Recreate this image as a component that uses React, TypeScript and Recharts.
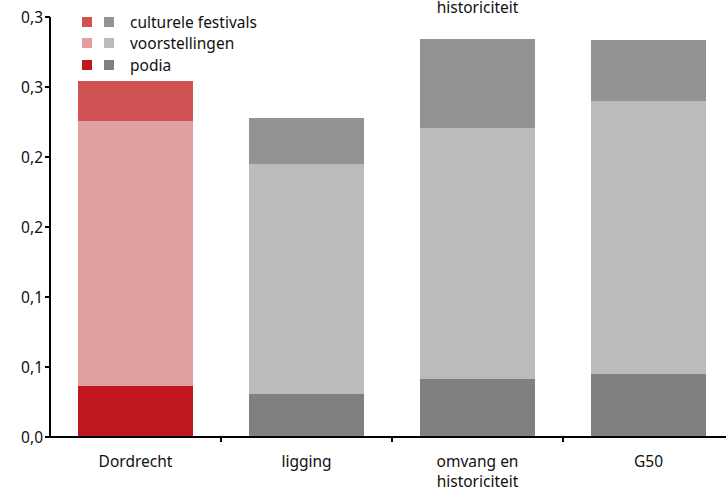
import { BarChart, Bar, XAxis, YAxis, Cell } from 'recharts';

const categories = ['Dordrecht', 'ligging', 'omvang en historiciteit', 'G50'];
const podia = [0.0364, 0.0307, 0.0414, 0.045];
const voorstellingen = [0.1893, 0.1643, 0.1793, 0.195];
const festivals = [0.0286, 0.0329, 0.0636, 0.0436];
const yTicks = [0, 0.05, 0.1, 0.15, 0.2, 0.25, 0.3];
const yTickLabels = ['0,0', '0,1', '0,1', '0,2', '0,2', '0,3', '0,3'];
const legendLabels = ['culturele festivals', 'voorstellingen', 'podia'];

const RED = { festivals: '#d05252', voorstellingen: '#e0a0a0', podia: '#c0161f' };
const GREY = { festivals: '#939393', voorstellingen: '#bbbbbb', podia: '#808080' };

const chartData = categories.map((name, i) => ({
  name,
  podia: podia[i],
  voorstellingen: voorstellingen[i],
  festivals: festivals[i],
}));

const FONT = '"Noto Sans", sans-serif';
const FS = 15.5;
const W = 760;
const H = 489;
const M = { top: 17, right: 26, left: 0, bottom: 22 };
const Y_W = 50;
const band = (W - M.left - M.right - Y_W) / categories.length;

const XTick = (props: any) => {
  const { x, y, payload } = props;
  const words = String(payload.value).split(' ');
  const lines = words.length > 2 ? [words.slice(0, 2).join(' '), words.slice(2).join(' ')] : [payload.value];
  return (
    <g>
      <line x1={x + band / 2} y1={y - 8} x2={x + band / 2} y2={y - 3} stroke="#000" strokeWidth={2} />
      {lines.map((l: string, k: number) => (
        <text key={k} x={x} y={y + 22 + k * 20} textAnchor="middle" fontSize={FS} fontFamily={FONT} fill="#111">
          {l}
        </text>
      ))}
    </g>
  );
};

const legendColors = [
  [RED.festivals, GREY.festivals],
  [RED.voorstellingen, GREY.voorstellingen],
  [RED.podia, GREY.podia],
];

export default function App() {
  return (
    <div style={{ position: 'absolute', left: 0, top: 0, width: 726, height: 489, overflow: 'hidden', background: '#fff', fontFamily: FONT }}>
      <div style={{ position: 'absolute', left: 0, width: 955, top: -1, lineHeight: '16px', textAlign: 'center', fontSize: FS, color: '#111' }}>
        historiciteit
      </div>
      <BarChart width={W} height={H} data={chartData} margin={M} barSize={115} style={{ overflow: 'visible' }}>
        <XAxis
          dataKey="name"
          tick={<XTick />}
          tickLine={false}
          axisLine={{ stroke: '#000', strokeWidth: 2 }}
          interval={0}
        />
        <YAxis
          width={Y_W}
          domain={[0, 0.3]}
          ticks={yTicks}
          tickFormatter={(v: number) => yTickLabels[yTicks.indexOf(v)]}
          axisLine={{ stroke: '#000', strokeWidth: 2 }}
          tickLine={{ stroke: '#000', strokeWidth: 2 }}
          tickSize={5}
          tick={{ fontSize: FS, fontFamily: FONT, fill: '#111' }}
        />
        <Bar dataKey="podia" stackId="a" isAnimationActive={false}>
          {chartData.map((_, i) => (
            <Cell key={i} fill={i === 0 ? RED.podia : GREY.podia} />
          ))}
        </Bar>
        <Bar dataKey="voorstellingen" stackId="a" isAnimationActive={false}>
          {chartData.map((_, i) => (
            <Cell key={i} fill={i === 0 ? RED.voorstellingen : GREY.voorstellingen} />
          ))}
        </Bar>
        <Bar dataKey="festivals" stackId="a" isAnimationActive={false}>
          {chartData.map((_, i) => (
            <Cell key={i} fill={i === 0 ? RED.festivals : GREY.festivals} />
          ))}
        </Bar>
      </BarChart>
      <div style={{ position: 'absolute', left: 82, top: 11 }}>
        {legendLabels.map((l, i) => (
          <div key={l} style={{ display: 'flex', alignItems: 'center', height: 21.5, fontSize: FS, color: '#111' }}>
            <span style={{ width: 10, height: 10, background: legendColors[i][0], display: 'inline-block' }} />
            <span style={{ width: 10, height: 10, background: legendColors[i][1], display: 'inline-block', marginLeft: 12 }} />
            <span style={{ marginLeft: 16 }}>{l}</span>
          </div>
        ))}
      </div>
    </div>
  );
}
